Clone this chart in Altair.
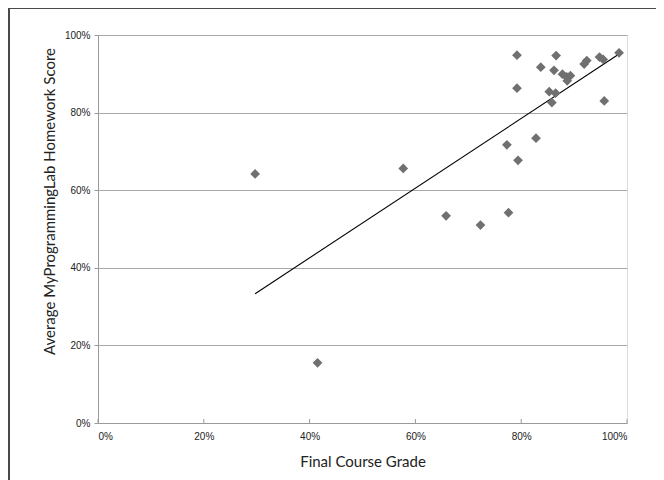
import altair as alt
import pandas as pd

# Final course grade (%) and average MyProgrammingLab homework score (%)
final_grade = [29.7, 41.5, 57.7, 65.8, 72.3, 77.6, 77.3, 79.4, 82.8, 79.2,
               79.2, 83.7, 86.6, 86.2, 87.8, 88.6, 89.3, 88.7, 85.3, 86.5,
               85.8, 91.9, 92.4, 94.8, 95.5, 98.5, 95.7]
hw_score = [64.2, 15.5, 65.6, 53.4, 51.0, 54.2, 71.7, 67.7, 73.4, 86.3,
            94.8, 91.7, 94.7, 90.9, 89.9, 89.2, 89.5, 88.2, 85.4, 85.0,
            82.6, 92.5, 93.4, 94.3, 93.7, 95.4, 83.0]
x_ticks = [0, 20, 40, 60, 80, 100]

df = pd.DataFrame({"grade": [v / 100 for v in final_grade],
                   "hw": [v / 100 for v in hw_score]})
ticks_df = pd.DataFrame({"t": [v / 100 for v in x_ticks]})

W, H = 529, 388
PL, PT, PR, PB = 90, 27, 29, 57

label_font = "Liberation Sans"
title_font = "Lato"

xscale = alt.Scale(domain=[0, 1], nice=False, zero=True)
yscale = alt.Scale(domain=[0, 1], nice=False, zero=True)

x_axis = alt.Axis(format="%", values=[v / 100 for v in x_ticks], grid=False,
                  ticks=False, domainColor="#9a9a9a", labelFont=label_font,
                  labelFontSize=10, labelColor="#222222", labelPadding=8,
                  title="Final Course Grade", titleFont=title_font,
                  titleFontSize=15, titleFontWeight="normal", titleColor="#222222",
                  titleBaseline="alphabetic", titleY=43)
y_axis = alt.Axis(format="%", values=[v / 100 for v in x_ticks], grid=True,
                  gridColor="#a9a9a9", gridWidth=1, ticks=True, tickSize=4,
                  tickColor="#9a9a9a", domainColor="#9a9a9a",
                  labelFont=label_font, labelFontSize=10, labelColor="#222222",
                  labelPadding=4,
                  title="Average MyProgrammingLab Homework Score",
                  titleFont=title_font, titleFontSize=15, titleFontWeight="normal",
                  titleColor="#222222", titleAngle=-90, titleX=-49, titleY=166,
                  titleAlign="center", titleBaseline="middle")

base = alt.Chart(df)

points = base.mark_point(shape="diamond", filled=True, size=95,
                         color="#707070", opacity=1).encode(
    x=alt.X("grade:Q", scale=xscale, axis=x_axis),
    y=alt.Y("hw:Q", scale=yscale, axis=y_axis),
)

trend = base.transform_regression("grade", "hw").mark_line(
    color="#000000", strokeWidth=1.1).encode(
    x=alt.X("grade:Q", scale=xscale),
    y=alt.Y("hw:Q", scale=yscale),
)

xticks = alt.Chart(ticks_df).mark_rule(color="#9a9a9a").encode(
    x=alt.X("t:Q", scale=xscale),
    y=alt.value(H), y2=alt.value(H - 4),
)

frame_left = alt.Chart(ticks_df).mark_rule(color="#4a4a4a", strokeWidth=2).encode(
    x=alt.value(-PL + 1), y=alt.value(-PT), y2=alt.value(H + PB))
frame_top = alt.Chart(ticks_df).mark_rule(color="#4a4a4a", strokeWidth=1).encode(
    x=alt.value(-PL), x2=alt.value(W + PR), y=alt.value(-PT + 0.5))

chart = alt.layer(xticks, trend, points, frame_left, frame_top).properties(
    width=W, height=H,
    padding={"left": PL, "top": PT, "right": PR, "bottom": PB},
    autosize=alt.AutoSizeParams(type="none"),
).configure_view(stroke=None).configure(background="white")

chart.save("out.html", embed_options={"renderer": "svg", "actions": False})
